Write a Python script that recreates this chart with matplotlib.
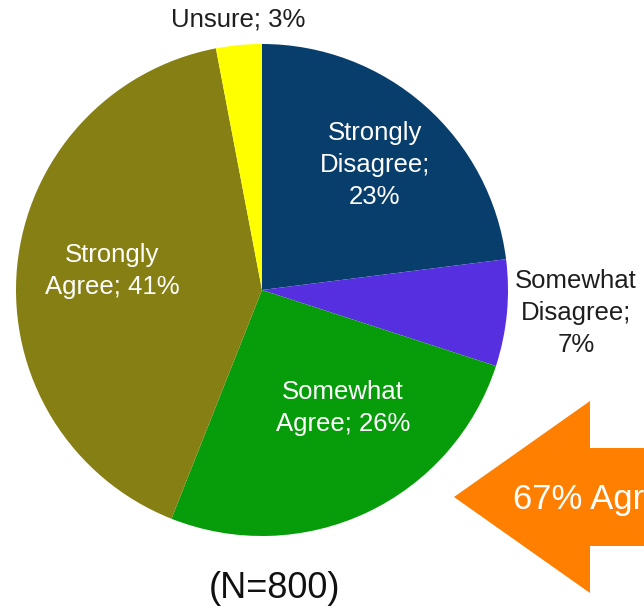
import matplotlib
matplotlib.use("Agg")
import matplotlib.pyplot as plt
from matplotlib.patches import Polygon

plt.rcParams['font.family'] = ['Liberation Sans', 'DejaVu Sans']

categories = ["Strongly Disagree", "Somewhat Disagree", "Somewhat Agree", "Strongly Agree", "Unsure"]
values = [23, 7, 26, 41, 3]
colors = ["#083e6c", "#552fe0", "#079c0a", "#867f13", "#ffff00"]
label_texts = ["Strongly\nDisagree;\n23%", "Somewhat\nDisagree;\n7%", "Somewhat\nAgree; 26%",
               "Strongly\nAgree; 41%", "Unsure; 3%"]
label_colors = ["white", "#1e1e1e", "white", "white", "#1e1e1e"]
label_pos = [(375, 165), (576, 313), (343, 408), (112, 271), (238, 20)]
sample_note = "(N=800)"
arrow_text = "67% Agree"

W, H = 644, 610
fig = plt.figure(figsize=(W / 100, H / 100), dpi=100)
ax = fig.add_axes([0, 0, 1, 1])

cx, cy, r = 262, H - 290, 246
ax.pie(values, colors=colors, startangle=90, counterclock=False,
       center=(cx, cy), radius=r, wedgeprops=dict(linewidth=0))
ax.set_xlim(0, W)
ax.set_ylim(0, H)
ax.set_aspect('equal')
ax.axis('off')

for txt, col, (px, py) in zip(label_texts, label_colors, label_pos):
    ax.text(px, H - py, txt, color=col, fontsize=18.5, ha='center', va='center',
            linespacing=1.4)

ax.text(275, H - 589, sample_note, color="#111111", fontsize=26, ha='center', va='center')

# orange arrow
arrow = Polygon([(454, H - 497), (590, H - 401), (590, H - 448), (700, H - 448),
                 (700, H - 546), (590, H - 546), (590, H - 593)],
                closed=True, facecolor="#ff7f00", edgecolor='none', clip_on=False)
ax.add_patch(arrow)
ax.text(513, H - 500, arrow_text, color="white", fontsize=25, ha='left', va='center')

fig.savefig("out.png", dpi=100)
